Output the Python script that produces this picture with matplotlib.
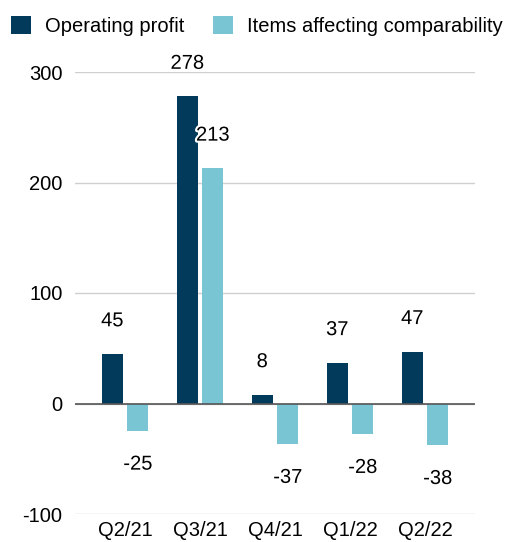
import matplotlib
matplotlib.use("Agg")
import matplotlib.pyplot as plt
import matplotlib.patheffects as pe
import numpy as np

categories = ["Q2/21", "Q3/21", "Q4/21", "Q1/22", "Q2/22"]
operating_profit = [45, 278, 8, 37, 47]
items_affecting = [-25, 213, -37, -28, -38]
series_names = ["Operating profit", "Items affecting comparability"]
yticks = [-100, 0, 100, 200, 300]

plt.rcParams['font.family'] = ['Liberation Sans', 'DejaVu Sans']

dark = "#023a5c"
light = "#79c5d3"
fs = 14.5

fig = plt.figure(figsize=(5.05, 5.42), dpi=100)
ax = fig.add_axes([75/505, 28/542, 400/505, 442/542])

x = np.arange(len(categories))
w = 0.28
off = 0.17
b1 = ax.bar(x - off, operating_profit, w, color=dark, label=series_names[0], zorder=3)
b2 = ax.bar(x + off, items_affecting, w, color=light, label=series_names[1], zorder=3)

ax.set_xlim(-0.667, len(categories) - 1 + 0.667)
ax.set_ylim(-100, 300)
ax.set_yticks(yticks)
ax.set_yticklabels([str(t) for t in yticks], fontsize=fs)
ax.set_xticks(x)
ax.set_xticklabels(categories, fontsize=fs)
ax.tick_params(length=0, pad=9)
ax.tick_params(axis='x', pad=5)
for s in ax.spines.values():
    s.set_visible(False)
ax.grid(axis='y', color="#cfcfcf", linewidth=1, zorder=0)
ax.axhline(0, color="#555555", linewidth=1.2, zorder=4)

halo = [pe.withStroke(linewidth=3, foreground="white")]
for bars, vals in ((b1, operating_profit), (b2, items_affecting)):
    for rect, v in zip(bars, vals):
        cx = rect.get_x() + rect.get_width() / 2
        dy = 33 if v >= 0 else -33
        ax.annotate(str(v), (cx, v), xytext=(0, dy), textcoords="offset pixels",
                    ha="center", va="center", fontsize=fs, zorder=5,
                    path_effects=halo)

fig.legend(handles=[b1, b2], labels=series_names, loc="upper left",
           bbox_to_anchor=(-0.004, 0.994), ncol=2, frameon=False, fontsize=fs,
           handlelength=1.0, handleheight=1.0, handletextpad=0.7,
           columnspacing=1.4, borderaxespad=0.25, borderpad=0.4)

fig.savefig("out.png", dpi=100)
